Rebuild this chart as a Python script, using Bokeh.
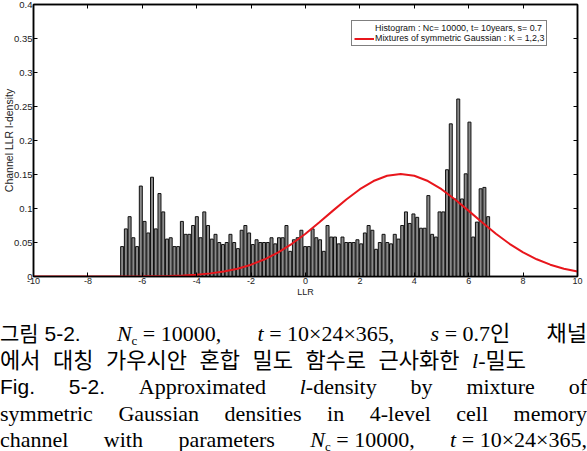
import numpy as np
from bokeh.plotting import figure
from bokeh.models import (ColumnDataSource, LinearAxis, FixedTicker, NumeralTickFormatter,
                          Legend, LegendItem, Range1d, Div)
from bokeh.layouts import column
from bokeh.embed import file_html
from bokeh.resources import INLINE

# ---------------- data ----------------
bin_start = -6.81          # left edge of the first histogram bin (LLR)
bin_width = 0.1373         # histogram bin width (LLR)
hist_density = [
    0.044, 0.070, 0.088, 0.057, 0.044, 0.133, 0.081, 0.064, 0.146, 0.070,
    0.122, 0.095, 0.055, 0.057, 0.044, 0.044, 0.081, 0.062, 0.062, 0.075,
    0.088, 0.057, 0.095, 0.075, 0.055, 0.062, 0.050, 0.047, 0.050, 0.062,
    0.050, 0.041, 0.068, 0.075, 0.064, 0.047, 0.054, 0.050, 0.050, 0.050,
    0.057, 0.048, 0.057, 0.057, 0.075, 0.037, 0.054, 0.057, 0.068, 0.044,
    0.044, 0.070, 0.057, 0.054, 0.037, 0.075, 0.058, 0.058, 0.048, 0.058,
    0.050, 0.050, 0.050, 0.054, 0.048, 0.064, 0.075, 0.068, 0.040, 0.050,
    0.062, 0.050, 0.048, 0.062, 0.055, 0.075, 0.095, 0.078, 0.092, 0.087,
    0.071, 0.071, 0.119, 0.062, 0.058, 0.095, 0.095, 0.157, 0.2245, 0.114,
    0.261, 0.114, 0.151, 0.227, 0.058, 0.080, 0.129, 0.131, 0.088,
]

curve_llr = [-10, -9.5, -9, -8.5, -8, -7.5, -7, -6.5, -6, -5.5, -5, -4.5, -4, -3.5,
             -3, -2.5, -2, -1.5, -1, -0.5, 0, 0.5, 1, 1.5, 2, 2.5, 3, 3.5, 4, 4.5,
             5, 5.5, 6, 6.5, 7, 7.5, 8, 8.5, 9, 9.5, 10]
curve_density = [0.0, 0.0, 0.0, 0.0, 0.0, 0.0, 0.0001, 0.0001, 0.0002, 0.0005, 0.0009,
                 0.0016, 0.0027, 0.0046, 0.0074, 0.0115, 0.0174, 0.0253, 0.0355, 0.0481,
                 0.0628, 0.0793, 0.0965, 0.1133, 0.1284, 0.1404, 0.1481, 0.1508, 0.1481,
                 0.1404, 0.1284, 0.1133, 0.0965, 0.0793, 0.0628, 0.0481, 0.0355, 0.0253,
                 0.0174, 0.0115, 0.0074]

x_ticks = [-10, -8, -6, -4, -2, 0, 2, 4, 6, 8, 10]
x_tick_labels = ["-10", "-8", "-6", "-4", "-2", "0", "2", "4", "6", "8", "10"]
y_ticks = [0, 0.05, 0.1, 0.15, 0.2, 0.25, 0.3, 0.35, 0.4]

legend_labels = ["Histogram : Nc= 10000, t= 10years, s= 0.7",
                 "Mixtures of symmetric Gaussian : K = 1,2,3"]
x_label = "LLR"
y_label = "Channel LLR l-density"

# ---------------- figure ----------------
centers = bin_start + bin_width * (np.arange(len(hist_density)) + 0.5)
src = ColumnDataSource(dict(x=centers, top=hist_density))

p = figure(width=587, height=300, x_range=Range1d(-10, 10), y_range=Range1d(0, 0.4),
           output_backend="svg", toolbar_location=None,
           min_border_left=33, min_border_right=10, min_border_top=4, min_border_bottom=24)
p.xgrid.visible = False
p.ygrid.visible = False
p.outline_line_color = "black"
p.outline_line_width = 1.5
p.background_fill_color = "white"
p.border_fill_color = "white"

bars = p.vbar(x="x", top="top", width=bin_width * 0.8, source=src,
              fill_color="#8a8a8a", line_color="#111111", line_width=1)
curve = p.line(curve_llr, curve_density, line_color="#e8161c", line_width=2)
swatch = p.quad(left=[], right=[], top=[], bottom=[], fill_color="white",
                line_color="black", line_width=1)

font = "Liberation Sans"


def style_axis(ax):
    ax.major_tick_in = 4
    ax.major_tick_out = 0
    ax.minor_tick_in = 4
    ax.minor_tick_out = 0
    ax.axis_line_width = 1.5
    ax.axis_line_color = "black"
    ax.major_tick_line_color = "black"
    ax.major_tick_line_width = 1
    ax.minor_tick_line_color = "black"
    ax.minor_tick_line_width = 1
    ax.major_label_text_font = font
    ax.major_label_text_color = "#222222"
    ax.major_label_text_font_size = "9.5px"
    ax.major_label_standoff = 2
    ax.axis_label_text_font = font
    ax.axis_label_text_font_style = "normal"
    ax.axis_label_text_color = "#222222"


p.xaxis.ticker = FixedTicker(ticks=x_ticks)
p.xaxis.major_label_overrides = dict(zip(x_ticks, x_tick_labels))
p.yaxis.ticker = FixedTicker(ticks=y_ticks)
p.yaxis.formatter = NumeralTickFormatter(format="0.[00]")
style_axis(p.xaxis[0])
style_axis(p.yaxis[0])
p.xaxis.minor_tick_in = 0
p.yaxis.minor_tick_in = 0
p.xaxis.axis_label = x_label
p.yaxis.axis_label = y_label
p.xaxis.major_label_standoff = 1
p.xaxis.major_label_text_font_size = "9px"
p.xaxis.axis_label_text_font_size = "9px"
p.yaxis.major_label_standoff = 1
p.yaxis.axis_label_text_font_size = "10.5px"
p.xaxis.axis_label_standoff = 0
p.yaxis.axis_label_standoff = -4

# top / right frame ticks (no labels): the tick positions are drawn as minor ticks
top_ax = LinearAxis(ticker=FixedTicker(ticks=[], minor_ticks=x_ticks))
style_axis(top_ax)
p.add_layout(top_ax, "above")
right_ax = LinearAxis(ticker=FixedTicker(ticks=[], minor_ticks=y_ticks))
style_axis(right_ax)
p.add_layout(right_ax, "right")

legend = Legend(items=[LegendItem(label=legend_labels[0], renderers=[swatch]),
                       LegendItem(label=legend_labels[1], renderers=[curve])],
                location=(318, 230))
legend.border_line_color = "black"
legend.border_line_width = 1.5
legend.padding = 2
legend.spacing = 0
legend.margin = 0
legend.glyph_width = 20
legend.glyph_height = 9
legend.label_height = 10
legend.label_standoff = 1
legend.label_text_font = font
legend.label_text_font_size = "8.9px"
legend.label_text_color = "#111111"
legend.background_fill_alpha = 1
p.add_layout(legend)

# ---------------- caption ----------------
LS = "height:26.5px;line-height:26.5px;white-space:nowrap;"
FL = "display:flex;justify-content:space-between;align-items:baseline;" + LS
sub_c = '<span style="font-size:13px;position:relative;top:4px">c</span>'
sans = "font-family:'Liberation Sans','Noto Sans CJK KR';"

caption = f"""
<div style="width:587px;padding-top:21px;font-family:'Liberation Serif','Noto Sans CJK KR';
font-size:22px;color:#000;">
 <div style="{FL}">
  <span style="{sans}font-size:21px">그림&nbsp;5-2.</span>
  <span><i>N</i>{sub_c} = 10000,</span>
  <span><i>t</i> = 10×24×365,</span>
  <span><i>s</i> = 0.7인</span>
  <span>채널</span>
 </div>
 <div style="{LS}word-spacing:7px;">에서 대칭 가우시안 혼합 밀도 함수로 근사화한 <i>l</i>-밀도</div>
 <div style="{FL}">
  <span style="{sans}font-size:21px">Fig.</span><span style="{sans}font-size:21px">5-2.</span>
  <span>Approximated</span><span><i>l</i>-density</span><span>by</span>
  <span>mixture</span><span>of</span>
 </div>
 <div style="{FL}">
  <span>symmetric</span><span>Gaussian</span><span>densities</span><span>in</span>
  <span>4-level</span><span>cell</span><span>memory</span>
 </div>
 <div style="{FL}">
  <span>channel</span><span>with</span><span>parameters</span>
  <span><i>N</i>{sub_c} = 10000,</span><span><i>t</i> = 10×24×365,</span>
 </div>
</div>
"""
div = Div(text=caption, width=587, height=151, margin=(0, 0, 0, 0))

layout = column(p, div, spacing=0)
open("out.html", "w").write(file_html(layout, INLINE))
